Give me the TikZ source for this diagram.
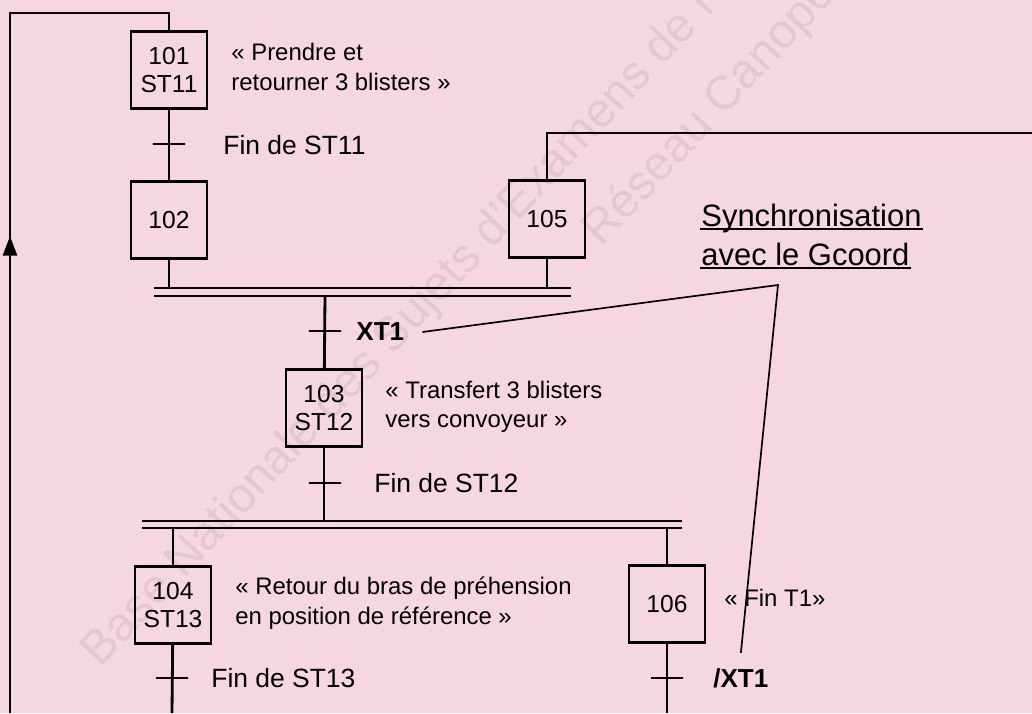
\documentclass[tikz,border=0pt]{standalone}
\usepackage{fontspec}
\setmainfont{Liberation Sans}
\usetikzlibrary{arrows.meta}
\definecolor{fondrose}{RGB}{246,214,226}
\definecolor{filigrane}{RGB}{230,198,210}

\begin{document}
\begin{tikzpicture}[x=0.025cm, y=-0.025cm, line width=2pt,
  etape/.style={draw, minimum width=1.9cm, minimum height=1.92cm, inner sep=0pt,
    align=center, font=\fontsize{17.5}{19.5}\selectfont},
  recep/.style={draw, minimum width=0.8cm, minimum height=0pt, inner sep=0pt, line width=1.8pt},
  lbl/.style={anchor=west, align=left, inner sep=0pt, font=\fontsize{17}{21}\selectfont},
  lblfin/.style={lbl, font=\fontsize{18.8}{21}\selectfont},
  lblgras/.style={lbl, font=\fontsize{18.5}{21}\selectfont\bfseries},
  synchro/.style={anchor=base west, inner sep=0pt, font=\fontsize{22}{26}\selectfont},
  filig/.style={text=filigrane, inner sep=0pt, font=\fontsize{34}{40}\selectfont},
  renvoi/.style={line width=1.2pt}]

  % fond et cadre
  \fill[fondrose] (0,0) rectangle (1032,713);
  \useasboundingbox (0,0) rectangle (1032,713);

  % filigrane
  \begin{scope}
    \clip (0,0) rectangle (1032,713);
    \node[filig, rotate=47, anchor=base west] (wm1) at (100,670) {Base Nationale des Sujets d'Examens de l'enseignement professionnel};
    \node[filig, rotate=47, anchor=base west] (wm2) at (601,249) {Réseau Canopé};
  \end{scope}

  % etapes
  \node[etape] (s101) at (169,70) {101\\ST11};
  \node[etape] (s102) at (169,220) {102};
  \node[etape] (s105) at (547,219) {105};
  \node[etape] (s103) at (324,408) {103\\ST12};
  \node[etape] (s104) at (173,605) {104\\ST13};
  \node[etape] (s106) at (667,604) {106};

  % receptivites
  \node[recep] (t101) at (169,144) {};
  \node[recep] (t103) at (325,331) {};
  \node[recep] (t1034) at (325,483) {};
  \node[recep] (t104) at (172,678) {};
  \node[recep] (t106) at (667,678) {};

  % barres de synchronisation
  \coordinate (b1h) at (154,288);
  \coordinate (b1b) at (154,296);
  \coordinate (b2h) at (142,521);
  \coordinate (b2b) at (142,528);
  \draw (b1h) -- (571,288) (b1b) -- (571,296);
  \draw (b2h) -- (682,521) (b2b) -- (682,528);

  % liaisons
  \coordinate (retB) at (10,713);
  \coordinate (retH) at (10,13);
  \coordinate (flB) at (10,262);
  \coordinate (flH) at (10,236);
  \coordinate (versG) at (1032,133);
  \coordinate (bas104) at (172,713);
  \coordinate (bas106) at (667,713);
  \draw (retB) -- (retH) -| (s101.north);
  \draw[-{Triangle[length=14pt,width=10pt]}] (flB) -- (flH);
  \draw (s101) -- (s102);
  \draw (s102.south) -- (s102.south |- b1h);
  \draw (s105.south) -- (s105.south |- b1h);
  \draw (s105.north) |- (versG);
  \draw (t103 |- b1b) -- (s103);
  \draw (s103.south) -- (s103.south |- b2h);
  \draw (s104.north |- b2b) -- (s104);
  \draw (s106.north |- b2b) -- (s106);
  \draw (s104) -- (bas104);
  \draw (s106) -- (bas106);

  % actions et receptivites
  \node[lbl] (a101) at (230,67) {« Prendre et\\retourner 3 blisters »};
  \node[lblfin] (r101) at (222,145) {Fin de ST11};
  \node[lblgras] (xt1) at (355,332) {XT1};
  \node[lbl] (a103) at (384,407) {« Transfert 3 blisters\\vers convoyeur »};
  \node[lblfin] (r103) at (373,483) {Fin de ST12};
  \node[lbl] (a104) at (234,603) {« Retour du bras de préhension\\en position de référence »};
  \node[lblfin] (r104) at (210,678) {Fin de ST13};
  \node[lbl] (a106) at (723,598) {« Fin T1»};
  \node[lblgras] (nxt1) at (712,678) {/XT1};

  % synchronisation
  \node[synchro] (sync1) at (700,226) {Synchronisation};
  \node[synchro] (sync2) at (700,265) {avec le Gcoord};
  \draw[line width=1.2pt] ([yshift=-2pt]sync1.base west) -- ([yshift=-2pt]sync1.base east);
  \draw[line width=1.2pt] ([yshift=-2pt]sync2.base west) -- ([yshift=-2pt]sync2.base east);
  \coordinate (coude) at (778,285);
  \draw[renvoi] ([xshift=12pt]xt1.east) -- (coude) -- ([yshift=10pt]nxt1.north);
\end{tikzpicture}
\end{document}
